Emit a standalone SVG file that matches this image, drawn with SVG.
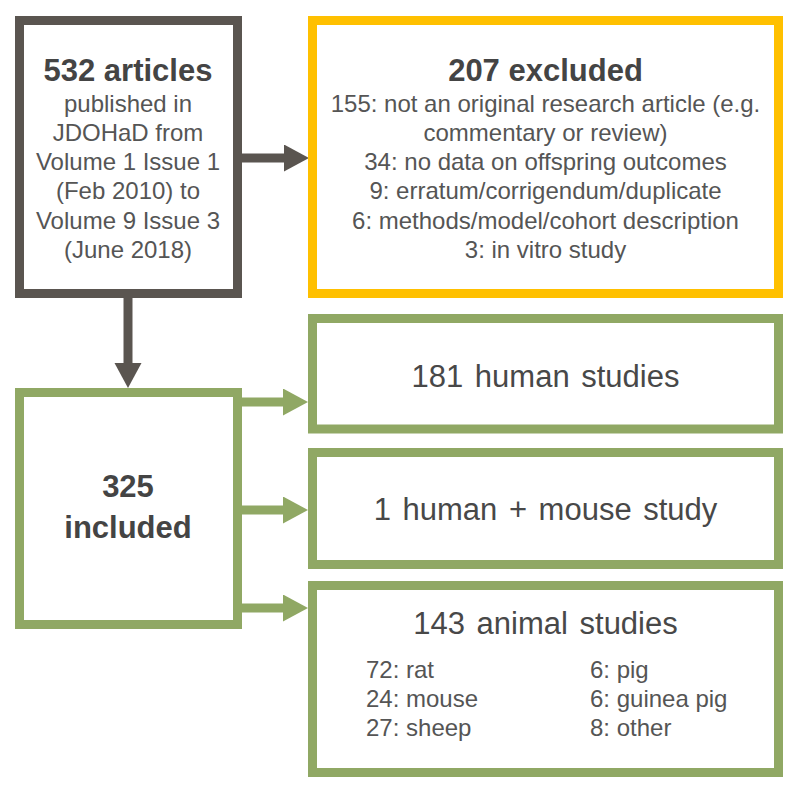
<svg xmlns="http://www.w3.org/2000/svg" width="800" height="794" viewBox="0 0 800 794">
  <style>
    .box { fill: #ffffff; stroke-width: 9; }
    .dark { stroke: #5a5550; }
    .yellow { stroke: #ffc000; }
    .green { stroke: #90a864; }
    text { font-family: "Liberation Sans", Arial, sans-serif; }
    .bold { font-weight: bold; font-size: 31px; fill: #444444; text-anchor: middle; }
    .body { font-size: 24px; fill: #555555; text-anchor: middle; }
    .title { font-size: 31px; fill: #484848; text-anchor: middle; word-spacing: 3px; }
    .list { font-size: 24px; fill: #555555; }
    .conn-dark { stroke: #5a5550; stroke-width: 9; fill: none; }
    .conn-green { stroke: #90a864; stroke-width: 9; fill: none; }
  </style>
  <defs>
    <marker id="headDark" markerUnits="userSpaceOnUse" markerWidth="26" markerHeight="28" refX="1" refY="13.5" orient="auto">
      <path d="M0,0 L25,13.5 L0,27 z" fill="#5a5550"/>
    </marker>
    <marker id="headGreen" markerUnits="userSpaceOnUse" markerWidth="26" markerHeight="28" refX="1" refY="13.5" orient="auto">
      <path d="M0,0 L25,13.5 L0,27 z" fill="#90a864"/>
    </marker>
  </defs>
  <rect width="800" height="794" fill="#ffffff"/>

  <g id="connectors">
    <path class="conn-dark" d="M242,158 L285,158" marker-end="url(#headDark)"/>
    <path class="conn-dark" d="M128,298 L128,364" marker-end="url(#headDark)"/>
    <path class="conn-green" d="M242,402 L284,402" marker-end="url(#headGreen)"/>
    <path class="conn-green" d="M242,510 L284,510" marker-end="url(#headGreen)"/>
    <path class="conn-green" d="M242,608 L284,608" marker-end="url(#headGreen)"/>
  </g>

  <g id="articles">
    <rect class="box dark" x="19.5" y="20.5" width="218" height="273"/>
    <text class="bold" x="128" y="81">532 articles</text>
    <text class="body" x="128" y="112">published in</text>
    <text class="body" x="128" y="141">JDOHaD from</text>
    <text class="body" x="128" y="170">Volume 1 Issue 1</text>
    <text class="body" x="128" y="199">(Feb 2010) to</text>
    <text class="body" x="128" y="229">Volume 9 Issue 3</text>
    <text class="body" x="128" y="258">(June 2018)</text>
  </g>

  <g id="excluded">
    <rect class="box yellow" x="312.5" y="20.5" width="466" height="273"/>
    <text class="bold" x="545.5" y="81">207 excluded</text>
    <text class="body" x="545.5" y="112">155: not an original research article (e.g.</text>
    <text class="body" x="545.5" y="141">commentary or review)</text>
    <text class="body" x="545.5" y="170">34: no data on offspring outcomes</text>
    <text class="body" x="545.5" y="199">9: erratum/corrigendum/duplicate</text>
    <text class="body" x="545.5" y="229">6: methods/model/cohort description</text>
    <text class="body" x="545.5" y="258">3: in vitro study</text>
  </g>

  <g id="included">
    <rect class="box green" x="19.5" y="392.5" width="218" height="232"/>
    <text class="bold" x="128" y="497">325</text>
    <text class="bold" x="128" y="538">included</text>
  </g>

  <g id="human">
    <rect class="box green" x="312.5" y="318.5" width="466" height="110.5"/>
    <text class="title" x="545.5" y="387">181 human studies</text>
  </g>

  <g id="human-mouse">
    <rect class="box green" x="312.5" y="452.5" width="466" height="112"/>
    <text class="title" x="545.5" y="520">1 human + mouse study</text>
  </g>

  <g id="animal">
    <rect class="box green" x="312.5" y="585.5" width="466" height="187"/>
    <text class="title" x="545.5" y="634">143 animal studies</text>
    <text class="list" x="366" y="678">72: rat</text>
    <text class="list" x="366" y="707">24: mouse</text>
    <text class="list" x="366" y="736">27: sheep</text>
    <text class="list" x="590" y="678">6: pig</text>
    <text class="list" x="590" y="707">6: guinea pig</text>
    <text class="list" x="590" y="736">8: other</text>
  </g>
</svg>
